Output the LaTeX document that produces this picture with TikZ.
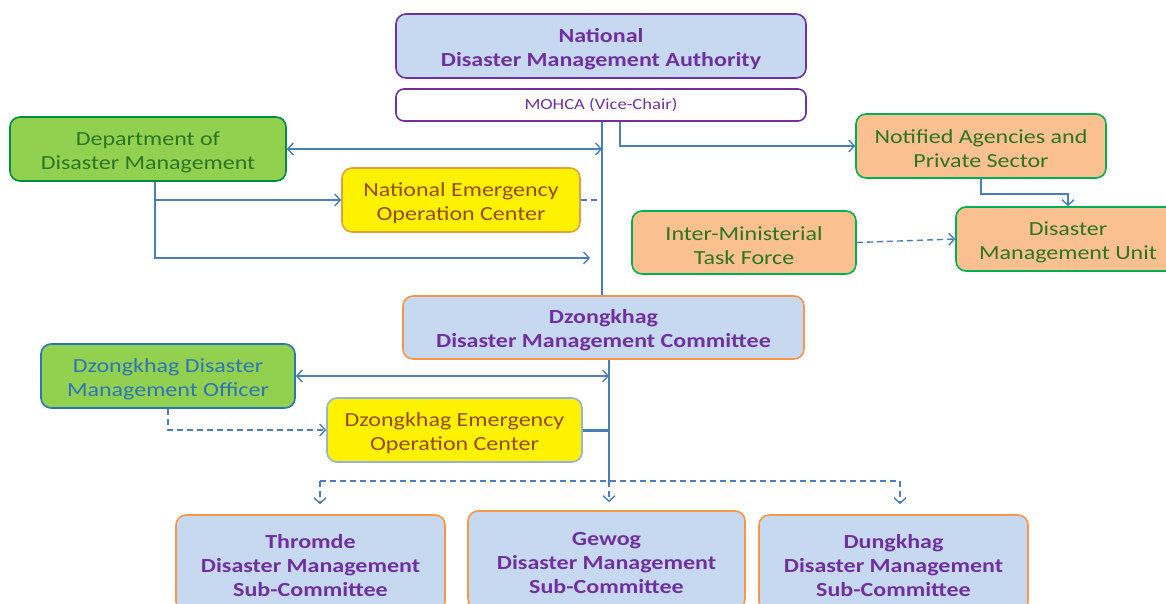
\documentclass[tikz,border=0pt]{standalone}
\usepackage{fontspec}
\setmainfont{Carlito}[FakeStretch=1.2]
\usetikzlibrary{arrows.meta}
\definecolor{cblue}{HTML}{4A7EBB}
\definecolor{cpurple}{HTML}{7030A0}
\definecolor{lblue}{HTML}{C6D9F1}
\definecolor{corange}{HTML}{F79646}
\definecolor{lgreen}{HTML}{92D050}
\definecolor{bgreen}{HTML}{00B050}
\definecolor{tgreen}{HTML}{2E7521}
\definecolor{peach}{HTML}{FAC090}
\definecolor{yborder}{HTML}{E0A040}
\definecolor{tbrown}{HTML}{984807}
\definecolor{dblue}{HTML}{2E75B6}
\definecolor{deocb}{HTML}{95B3D7}
\newcommand{\tstrut}{\rule{0pt}{20pt}}
\tikzset{
  box/.style={draw, rounded corners=10pt, line width=1.6pt, align=center, inner sep=0pt,
    font=\fontsize{20}{24}\selectfont},
  purplebox/.style={box, fill=lblue, draw=cpurple, text=cpurple, font=\fontsize{20}{24}\selectfont\bfseries},
  orangeblue/.style={box, fill=lblue, draw=corange, text=cpurple, font=\fontsize{20}{24}\selectfont\bfseries},
  greenbox/.style={box, fill=lgreen, draw=bgreen!80!black, text=tgreen},
  peachbox/.style={box, fill=peach, draw=bgreen, text=tgreen},
  yellowbox/.style={box, fill=yellow, text=tbrown},
  conn/.style={draw=cblue, line width=1.4pt},
  tip/.style={-{Straight Barb[length=5.5pt,width=12pt,line width=1.4pt]}},
  tips/.style={{Straight Barb[length=5.5pt,width=12pt,line width=1.4pt]}-{Straight Barb[length=5.5pt,width=12pt,line width=1.4pt]}},
  dsh/.style={dash pattern=on 6pt off 4pt}
}
\begin{document}
\begin{tikzpicture}[x=1pt,y=-1pt]
\useasboundingbox (0,0) rectangle (1166,604);
\fill[white] (0,0) rectangle (1166,604);

\node[purplebox, minimum width=410pt, minimum height=64pt] (ndma) at (601,46) {\tstrut National\\Disaster Management Authority};
\node[draw, rounded corners=8pt, line width=1.6pt, inner sep=0pt, fill=white, draw=cpurple, text=cpurple, font=\fontsize{15.5}{18}\selectfont, minimum width=410pt, minimum height=32pt] (mohca) at (601,105) {MOHCA (Vice-Chair)};
\node[greenbox, minimum width=276pt, minimum height=64pt] (ddm) at (148,149) {\tstrut Department of\\Disaster Management};
\node[yellowbox, draw=yborder, minimum width=238pt, minimum height=64pt] (neoc) at (461,200) {\tstrut National Emergency\\Operation Center};
\node[peachbox, minimum width=250pt, minimum height=64pt] (notif) at (981,146) {\tstrut Notified Agencies and\\Private Sector};
\node[peachbox, minimum width=224pt, minimum height=63pt] (imtf) at (744,242.5) {\tstrut Inter-Ministerial\\Task Force};
\node[peachbox, minimum width=224pt, minimum height=64pt] (dmu) at (1068,239) {\tstrut Disaster\\Management Unit};
\node[orangeblue, minimum width=401pt, minimum height=63pt] (ddmc) at (603.5,327.5) {\tstrut Dzongkhag\\Disaster Management Committee};
\node[greenbox, draw=dblue, text=dblue, minimum width=254pt, minimum height=64pt] (ddmo) at (168,376) {\tstrut Dzongkhag Disaster\\Management Officer};
\node[yellowbox, draw=deocb, minimum width=255pt, minimum height=64pt] (deoc) at (454.5,430) {\tstrut Dzongkhag Emergency\\Operation Center};
\node[orangeblue, minimum width=269pt, minimum height=96pt] (thromde) at (310.5,563) {\tstrut Thromde\\Disaster Management\\Sub-Committee};
\node[orangeblue, minimum width=277pt, minimum height=98pt] (gewog) at (606.5,560) {\tstrut Gewog\\Disaster Management\\Sub-Committee};
\node[orangeblue, minimum width=269pt, minimum height=96pt] (dungkhag) at (893.5,563) {\tstrut Dungkhag\\Disaster Management\\Sub-Committee};

\coordinate (vx) at (602,0);
\coordinate (vr) at (620,0);
\coordinate (vx2) at (609,0);
\coordinate (dx) at (155,0);
\coordinate (e1) at (590,258);
\coordinate (hb) at (0,481);
\coordinate (lx) at (320,0);
\coordinate (rx) at (900,0);

% top trunk
\draw[conn] (mohca.south -| vx) -- (ddmc.north -| vx);
\draw[conn, tip] (mohca.south -| vr) |- (notif.west);
\draw[conn, tips] (ddm.east) -- (ddm.east -| vx);
\draw[conn, tip] (ddm.south -| dx) |- (neoc.west);
\draw[conn, tip] (ddm.south -| dx) |- (e1);
\draw[conn, dsh] (neoc.east) -- (neoc.east -| vx);
\draw[conn, tip] (notif.south) -- ++(0,15) -| (dmu.north);
\draw[conn, dsh, tip] (imtf.east) -- (dmu.west);

% dzongkhag level
\draw[conn] (ddmc.south -| vx2) -- (hb -| vx2);
\draw[conn, tips] (ddmo.east) -- (ddmo.east -| vx2);
\draw[draw=cblue, line width=3pt] (deoc.east) -- (deoc.east -| vx2);
\draw[conn, dsh, tip] (ddmo.south) |- (deoc.west);

% sub-committees
\draw[conn, line width=1.1pt, dsh] (hb -| lx) -- (hb -| rx);
\draw[conn, line width=1.1pt, dsh, tip] (hb -| lx) -- ([yshift=10pt]thromde.north -| lx);
\draw[conn, line width=1.1pt, dsh, tip] (hb -| vx2) -- ([yshift=8pt]gewog.north -| vx2);
\draw[conn, line width=1.1pt, dsh, tip] (hb -| rx) -- ([yshift=10pt]dungkhag.north -| rx);
\end{tikzpicture}
\end{document}
